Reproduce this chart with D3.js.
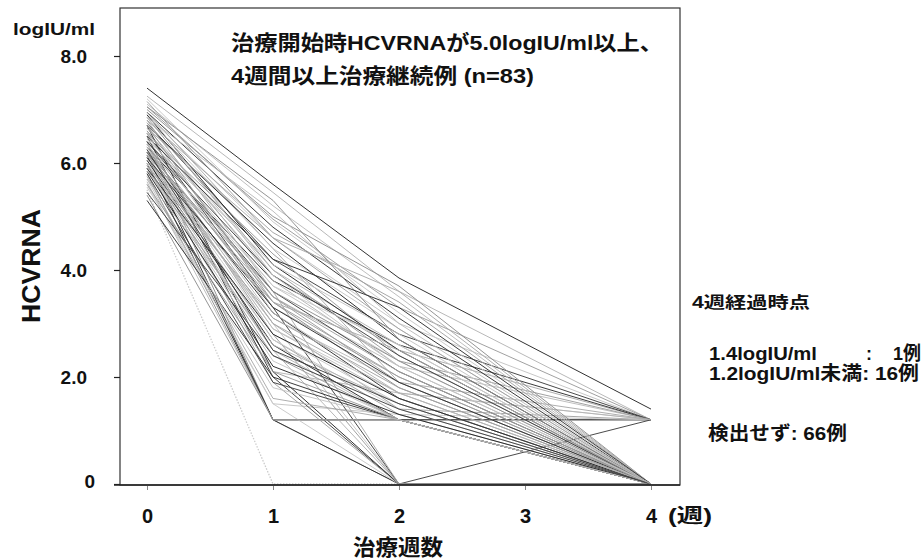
<!DOCTYPE html>
<html><head><meta charset="utf-8">
<script src="https://cdn.jsdelivr.net/npm/d3@7/dist/d3.min.js"></script>
<style>
html,body{margin:0;padding:0;background:#fff;}
svg{display:block;}
text{font-family:"Liberation Sans","Noto Sans CJK JP",Arial,sans-serif;font-weight:bold;fill:#111;}
</style></head>
<body>
<svg id="chart" width="922" height="560"></svg>
<script>
// ---- data ----
const weeks = [0, 1, 2, 4];
const xTickValues = [0, 1, 2, 3, 4];
const xTickLabels = ["0", "1", "2", "3", "4"];
const yTickValues = [0, 2, 4, 6, 8];
const yTickLabels = ["0", "2.0", "4.0", "6.0", "8.0"];

// HCV RNA (logIU/ml) for 83 patients at weeks 0,1,2,4
const w0 = [7.40,
  7.25,7.05,6.90,6.75,6.60,6.45,6.40,6.30,6.20,6.10,6.00,5.90,6.85,5.70,6.50,6.95,
  5.50,
  5.80,6.15,5.60,6.20,6.70,5.90,6.35,6.05,6.55,6.80,
  7.10,7.00,6.95,6.85,6.80,6.70,6.65,6.55,6.50,6.40,6.35,6.30,6.25,6.20,6.15,6.10,6.05,6.00,5.95,5.90,5.80,5.75,5.65,5.40,5.30,
  7.20,7.15,6.90,6.75,6.60,6.45,6.40,6.30,6.25,6.20,6.10,6.00,5.95,5.85,5.70,5.60,5.55,5.45,
  6.65,6.85,7.05,6.50,6.35,6.15,5.90,6.55,6.70,6.95,6.25,5.85];
const w1 = [5.60,
  5.45,4.95,4.60,4.20,3.90,3.50,1.20,3.80,2.90,3.00,1.20,2.10,4.00,1.50,2.00,4.40,
  0.00,
  1.20,1.20,1.50,1.90,2.10,2.50,2.80,3.00,3.30,3.60,
  5.20,5.00,4.80,4.40,4.70,4.50,4.00,4.30,3.70,3.60,3.30,3.10,3.40,3.20,2.80,2.70,2.60,2.50,2.40,2.30,1.90,1.60,1.20,1.20,2.00,
  4.90,4.60,4.10,3.80,3.50,4.10,3.90,3.00,2.90,3.60,3.30,2.70,3.10,2.20,2.60,2.10,1.80,2.40,
  4.60,5.10,5.30,4.20,3.70,3.50,2.80,3.20,3.40,3.90,2.50,3.40];
const w2 = [3.85,
  3.60,3.30,3.00,2.80,2.50,2.20,1.20,2.60,1.70,1.40,1.20,1.70,2.30,1.30,0.00,1.90,
  0.00,
  0,0,0,0,0,0,0,0,0,0,
  3.50,3.70,3.10,2.90,3.40,2.70,2.60,2.40,2.30,2.10,2.00,1.90,1.80,1.60,1.50,1.30,1.20,1.20,1.20,1.20,1.20,1.20,1.20,1.20,1.20,
  3.20,2.90,2.50,2.20,1.90,2.80,2.40,1.70,1.60,2.30,1.90,1.40,1.80,1.30,1.50,1.20,1.20,1.40,
  3.60,3.00,2.70,3.30,2.60,2.10,1.60,1.70,2.00,2.20,1.50,2.50];
const w4 = [1.4,
  1.2,1.2,1.2,1.2,1.2,1.2,1.2,1.2,1.2,1.2,1.2,1.2,1.2,1.2,1.2,1.2,
  0,
  0,0,0,0,0,0,0,0,0,0,
  0,0,0,0,0,0,0,0,0,0,0,0,0,0,0,0,0,0,0,0,0,0,0,0,0,
  0,0,0,0,0,0,0,0,0,0,0,0,0,0,0,0,0,0,
  0,0,0,0,0,0,0,0,0,0,0,0];

const titleLines = ["治療開始時HCVRNAが5.0logIU/ml以上、", "4週間以上治療継続例  (n=83)"];
const noteLines = ["4週経過時点", "1.4logIU/ml", ":", "1例", "1.2logIU/ml未満: 16例", "検出せず: 66例"];

// ---- chart ----
const svg = d3.select("#chart");
const frame = {left: 120, right: 680, top: 8, bottom: 485};
const x = d3.scaleLinear().domain([0, 4]).range([147, 651]);
const y = d3.scaleLinear().domain([0, 8]).range([484, 56]);

const patients = w0.map((v, i) => weeks.map((wk, j) => ({wk, v: [w0[i], w1[i], w2[i], w4[i]][j]})));
const tones = ["#262626", "#b4b4b4", "#9c9c9c", "#c4c4c4", "#404040", "#aaaaaa", "#bcbcbc", "#8e8e8e", "#303030", "#c8c8c8", "#a2a2a2"];

const line = d3.line().x(d => x(d.wk)).y(d => y(d.v));

const lines = svg.append("g");
d3.range(patients.length).forEach(i => {
  const faint = (i === 17);
  const c = tones[i % tones.length];
  lines.append("path")
    .attr("d", line(patients[i]))
    .attr("fill", "none")
    .attr("stroke", faint ? "#cccccc" : c)
    .attr("stroke-width", faint ? 1.3 : 0.95)
    .attr("stroke-dasharray", faint ? "1.5,1.5" : null)
    .attr("stroke-linejoin", "round");
});

// frame
svg.append("rect")
  .attr("x", frame.left).attr("y", frame.top)
  .attr("width", frame.right - frame.left).attr("height", frame.bottom - frame.top)
  .attr("fill", "none").attr("stroke", "#333").attr("stroke-width", 1.2);

// y axis
const yAxis = d3.axisLeft(y).tickValues(yTickValues).tickSize(6).tickPadding(27)
  .tickFormat((d, i) => yTickLabels[i]);
const gy = svg.append("g").attr("transform", `translate(${frame.left},0)`).call(yAxis);
gy.select(".domain").remove();
gy.selectAll(".tick line").attr("stroke", "#222").attr("stroke-width", 1.2);
gy.selectAll(".tick text").style("font-size", "19px").attr("dy", "0.36em").attr("fill", "#111");
gy.selectAll(".tick").filter(d => d === 0).select("text").attr("dy", "0.2em").attr("dx", "8");

// x axis
const xAxis = d3.axisBottom(x).tickValues(xTickValues).tickSize(5).tickPadding(19)
  .tickFormat((d, i) => xTickLabels[i]);
const gx = svg.append("g").attr("transform", `translate(0,${frame.bottom})`).call(xAxis);
gx.select(".domain").remove();
gx.selectAll(".tick line").attr("stroke", "#888").attr("stroke-width", 1);
gx.selectAll(".tick text").style("font-size", "20px").attr("fill", "#111");

// bottom axis line extends a bit left
svg.append("line").attr("x1", 114).attr("x2", frame.right).attr("y1", frame.bottom).attr("y2", frame.bottom)
  .attr("stroke", "#222").attr("stroke-width", 1.6);

function txt(s, tx, ty, size, len, anchor) {
  const t = svg.append("text").attr("x", tx).attr("y", ty).style("font-size", size + "px").text(s);
  if (anchor) t.attr("text-anchor", anchor);
  if (len) t.attr("textLength", len).attr("lengthAdjust", "spacingAndGlyphs");
  return t;
}

// units
txt("logIU/ml", 13, 35, 16, 82);
// week unit
txt("(週)", 668, 523, 20, 44);
// x title
txt("治療週数", 398, 555, 22, 90, "middle");
// y title
svg.append("text")
  .attr("transform", "translate(40,266) rotate(-90)")
  .attr("text-anchor", "middle")
  .attr("textLength", 114).attr("lengthAdjust", "spacingAndGlyphs")
  .style("font-size", "25px").text("HCVRNA");

// title
txt(titleLines[0], 231, 50, 21, 432);
txt(titleLines[1], 231, 83, 21, 303);

// notes
txt(noteLines[0], 692, 308, 16, 118);
txt(noteLines[1], 709, 360, 19, 108);
txt(noteLines[2], 866, 360, 19, 6);
txt(noteLines[3], 893, 360, 19, 28);
txt(noteLines[4], 709, 380, 19, 210);
txt(noteLines[5], 708, 440, 19, 139);
</script>
</body></html>
